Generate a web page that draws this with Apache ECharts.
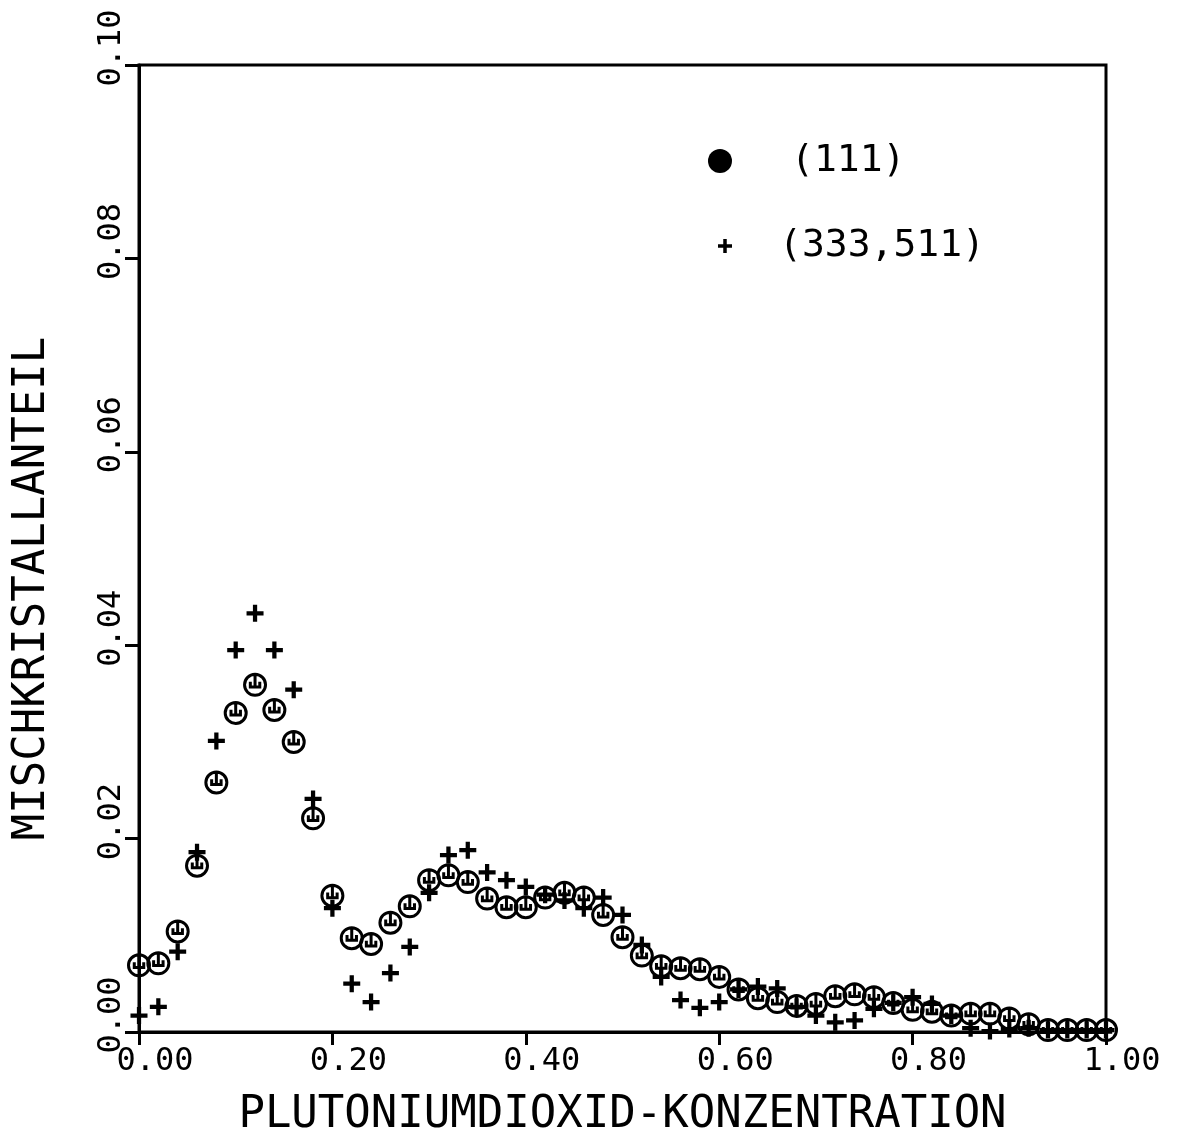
<!DOCTYPE html>
<html>
<head>
<meta charset="utf-8">
<script src="https://cdn.jsdelivr.net/npm/echarts@6/dist/echarts.min.js"></script>
<style>
html,body{margin:0;padding:0;background:#fff;}
#chart{width:1178px;height:1137px;}
</style>
</head>
<body>
<div id="chart"></div>
<script>
// PuO2 concentration (x)
const konzentration = [0.00,0.02,0.04,0.06,0.08,0.10,0.12,0.14,0.16,0.18,
  0.20,0.22,0.24,0.26,0.28,0.30,0.32,0.34,0.36,0.38,
  0.40,0.42,0.44,0.46,0.48,0.50,0.52,0.54,0.56,0.58,
  0.60,0.62,0.64,0.66,0.68,0.70,0.72,0.74,0.76,0.78,
  0.80,0.82,0.84,0.86,0.88,0.90,0.92,0.94,0.96,0.98,1.00];
// (111) reflection
const anteil111 = [0.0069,0.0071,0.0104,0.0172,0.0258,0.0330,0.0359,0.0333,0.0300,0.0221,
  0.0141,0.0097,0.0091,0.0113,0.0130,0.0157,0.0162,0.0155,0.0138,0.0129,
  0.0129,0.0139,0.0144,0.0139,0.0121,0.0098,0.0079,0.0068,0.0066,0.0065,
  0.0057,0.0044,0.0035,0.0031,0.0027,0.0029,0.0037,0.0039,0.0036,0.0030,
  0.0023,0.0021,0.0017,0.0019,0.0019,0.0014,0.0008,0.0002,0.0002,0.0002,0.0002];
// (333,511) reflections
const anteil333 = [0.0017,0.0026,0.0083,0.0186,0.0301,0.0395,0.0433,0.0395,0.0354,0.0241,
  0.0128,0.0050,0.0031,0.0061,0.0088,0.0144,0.0183,0.0188,0.0165,0.0157,
  0.0150,0.0142,0.0136,0.0128,0.0139,0.0121,0.0090,0.0057,0.0033,0.0025,
  0.0031,0.0044,0.0047,0.0045,0.0026,0.0017,0.0010,0.0012,0.0024,0.0030,
  0.0036,0.0029,0.0017,0.0004,0.0001,0.0003,0.0004,0.0002,0.0002,0.0002,0.0002];
const xTicks = [0.00,0.20,0.40,0.60,0.80,1.00];
const yTicks = [0.00,0.02,0.04,0.06,0.08,0.10];
const seriesNames = ['(111)','(333,511)'];
const xTitle = 'PLUTONIUMDIOXID-KONZENTRATION';
const yTitle = 'MISCHKRISTALLANTEIL';

const FONT = 'DejaVu Sans Mono';
const ringPath = 'path://M12 2 A10 10 0 1 1 11.99 2 Z M12 3 L12 13 M7.5 9 L7.5 14 L16.5 14 L16.5 9';
const plusPath = 'path://M6 0 L10 0 L10 6 L16 6 L16 10 L10 10 L10 16 L6 16 L6 10 L0 10 L0 6 L6 6 Z';

const chart = echarts.init(document.getElementById('chart'));
chart.setOption({
  backgroundColor: '#fff',
  animation: false,
  grid: {left: 139, right: 72, top: 65, bottom: 105, show: true, borderColor: '#000', borderWidth: 3,
         containLabel: false, outerBoundsMode: 'none'},
  legend: [
    {data: [seriesNames[0]], orient: 'vertical', left: 708, top: 142, padding: 0,
     itemWidth: 132, itemHeight: 24, icon: 'circle',
     itemStyle: {color: '#000', borderWidth: 0, opacity: 1},
     textStyle: {fontFamily: FONT, fontSize: 38, color: '#000'}},
    {data: [seriesNames[1]], orient: 'vertical', left: 718, top: 227, padding: 0,
     itemWidth: 98, itemHeight: 14, icon: plusPath,
     itemStyle: {color: '#000', borderWidth: 0, opacity: 1},
     textStyle: {fontFamily: FONT, fontSize: 38, color: '#000'}}
  ],
  xAxis: {
    type: 'value', min: 0, max: 1, interval: 0.2,
    name: xTitle, nameLocation: 'middle', nameGap: 62,
    nameTextStyle: {fontFamily: FONT, fontSize: 44, color: '#000'},
    axisLine: {show: true, lineStyle: {color: '#000', width: 3}},
    axisTick: {show: true, length: 13, lineStyle: {color: '#000', width: 3}},
    splitLine: {show: false},
    axisLabel: {fontFamily: FONT, fontSize: 32, color: '#000', margin: 14,
      padding: [0, 0, 0, 32],
      formatter: v => v.toFixed(2)}
  },
  yAxis: {
    type: 'value', min: 0, max: 0.1, interval: 0.02,
    name: yTitle, nameLocation: 'middle', nameGap: 84,
    nameTextStyle: {fontFamily: FONT, fontSize: 44, color: '#000', padding: [0, 80, 0, 0]},
    axisLine: {show: true, lineStyle: {color: '#000', width: 3}},
    axisTick: {show: true, length: 14, lineStyle: {color: '#000', width: 3}},
    splitLine: {show: false},
    axisLabel: {fontFamily: FONT, fontSize: 32, color: '#000', rotate: 90, margin: 11,
      padding: [0, 0, 0, 34],
      formatter: v => v.toFixed(2)}
  },
  series: [
    {name: seriesNames[1], type: 'scatter', clip: false, symbol: plusPath, symbolSize: 17,
     itemStyle: {color: '#000', borderWidth: 0, opacity: 1},
     data: konzentration.map((x, i) => [x, anteil333[i]])},
    {name: seriesNames[0], type: 'scatter', clip: false, symbol: ringPath, symbolSize: 21,
     itemStyle: {color: 'rgba(0,0,0,0)', borderColor: '#000', borderWidth: 3, opacity: 1},
     data: konzentration.map((x, i) => [x, anteil111[i]])}
  ]
});
</script>
</body>
</html>
